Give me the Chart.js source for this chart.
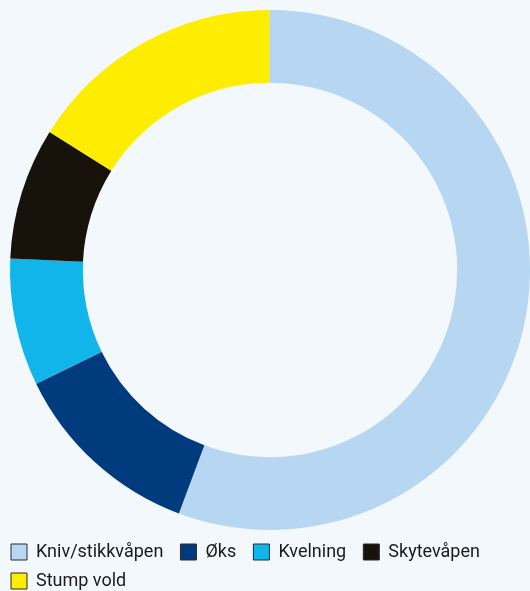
<!DOCTYPE html>
<html>
<head>
<meta charset="utf-8">
<script src="https://cdn.jsdelivr.net/npm/chart.js@4"></script>
<style>
  html, body { margin: 0; padding: 0; background: #f3f8fc; }
  #wrap { width: 530px; height: 591px; }
</style>
</head>
<body>
<div id="wrap"><canvas id="myChart"></canvas></div>
<script>
const labels = ['Kniv/stikkvåpen', 'Øks', 'Kvelning', 'Skytevåpen', 'Stump vold'];
const values = [55.7, 12.1, 7.9, 8.2, 16.1];
const colors = ['#b7d6f1', '#003b7e', '#12b5ea', '#17130a', '#ffed00'];

// pull the legend back to the canvas edge (layout padding only meant for the ring)
const legendShift = {
    id: 'legendShift',
    afterLayout: (chart) => {
        chart.legend.left -= 10;
        chart.legend.top += 2;
    }
};

const ctx = document.getElementById('myChart');

const pieChart = new Chart(ctx, {
    type: 'doughnut',
    data: {
        labels: labels,
        datasets: [{
            data: values,
            backgroundColor: colors,
            borderWidth: 0
        }]
    },
    options: {
        responsive: true,
        maintainAspectRatio: false,
        animation: false,
        cutout: '72%',
        layout: {
            padding: { top: 10, left: 10, right: 0, bottom: -7 }
        },
        plugins: {
            tooltip: { enabled: false },
            legend: {
                position: 'bottom',
                align: 'start',
                labels: {
                    boxWidth: 16,
                    boxHeight: 16,
                    padding: 11,
                    color: '#1a1a1a',
                    font: { family: 'Roboto', size: 18 },
                    generateLabels: (chart) => {
                        const items = Chart.overrides.doughnut.plugins.legend.labels.generateLabels(chart);
                        items.forEach((it) => {
                            it.strokeStyle = '#2a2a2a';
                            it.lineWidth = 1;
                            it.text = it.text + '\u2004';
                        });
                        return items;
                    }
                }
            }
        }
    },
    plugins: [legendShift]
});
</script>
</body>
</html>
